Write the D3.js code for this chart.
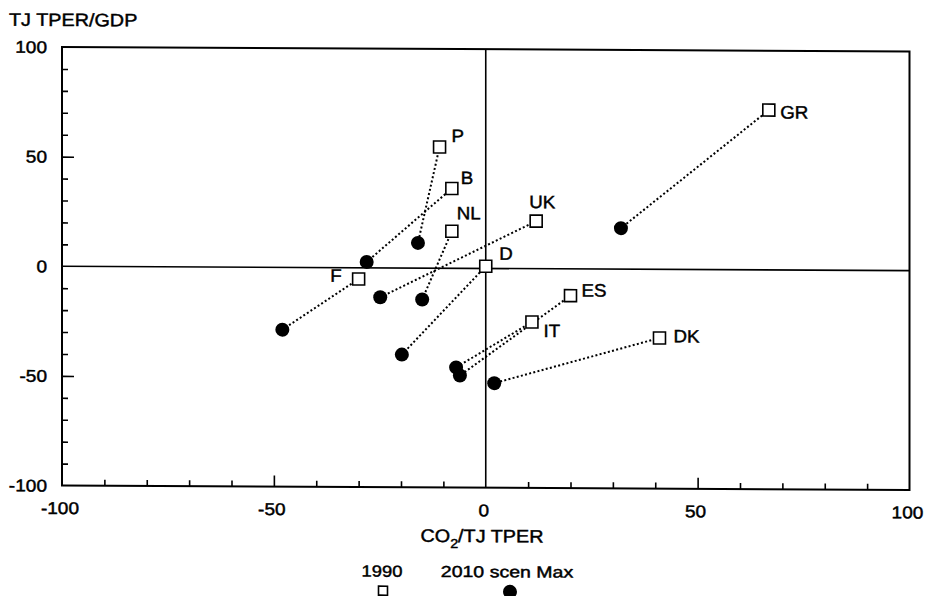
<!DOCTYPE html>
<html>
<head>
<meta charset="utf-8">
<script src="https://cdn.jsdelivr.net/npm/d3@7"></script>
<style>
  html, body { margin: 0; padding: 0; background: #fff; }
  svg { display: block; font-family: "Liberation Sans", Arial, Helvetica, sans-serif; }
  text { fill: #000; stroke: #000; stroke-width: 0.45px; }
</style>
</head>
<body>
<svg id="chart" width="930" height="596"></svg>
<script>
// Countries and the two states compared: 1990 and the 2010 "Max" scenario.
// x = change in CO2 per TJ TPER, y = change in TJ TPER per GDP.
const countries = ["P", "B", "NL", "UK", "D", "F", "ES", "IT", "DK", "GR"];
const x1990 = [-10.9, -8.0, -8.0, 11.9, 0.0, -30.0, 20.0, 10.9, 41.0, 66.8];
const y1990 = [55.3, 36.4, 16.9, 21.7, 1.0, -5.1, -12.2, -24.3, -31.3, 72.9];
const x2010 = [-16.0, -28.1, -15.0, -24.9, -19.8, -48.0, -6.1, -7.0, 2.0, 31.9];
const y2010 = [11.5, 2.7, -14.3, -13.4, -39.5, -28.4, -48.9, -45.2, -52.3, 18.7];

const xTicks = [-100, -50, 0, 50, 100];
const yTicks = [-100, -50, 0, 50, 100];
const minorStep = 10;
const legendLabels = ["1990", "2010 scen Max"];

// Label placement next to each 1990 square: [dx, dy, anchor]
const labelPlace = {
  P: [12, -5, "start"], B: [9, -4.5, "start"], NL: [5, -12, "start"],
  UK: [-7, -13, "start"], D: [13.5, -6.5, "start"], F: [-17, 3, "end"],
  ES: [11, 0.7, "start"], IT: [11.5, 15, "start"], DK: [14, 4.3, "start"],
  GR: [11.5, 8.3, "start"]
};

const svg = d3.select("#chart");
const shear = 0.0052;
const pLeft = 62, pRight = 909.5, pTop = 47, pBottom = 485.5;
const g = svg.append("g")
  .attr("transform", `translate(0,${-pLeft * shear}) skewY(${Math.atan(shear) * 180 / Math.PI})`);

const x = d3.scaleLinear().domain([-100, 100]).range([pLeft, pRight]);
const y = d3.scaleLinear().domain([-100, 100]).range([pBottom, pTop]);

// slightly wide lettering
function widen(sel, f) {
  sel.each(function () {
    const w = this.getComputedTextLength();
    d3.select(this).attr("textLength", w * f).attr("lengthAdjust", "spacingAndGlyphs");
  });
  return sel;
}

// Frame
g.append("rect")
  .attr("x", pLeft).attr("y", pTop)
  .attr("width", pRight - pLeft).attr("height", pBottom - pTop)
  .attr("fill", "none").attr("stroke", "#000").attr("stroke-width", 2);

// Minor / major ticks on the left and bottom edges, pointing inward
const minorVals = d3.range(-90, 100, minorStep).filter(v => v !== 0);
const yAxis = d3.axisRight(y).tickValues(minorVals).tickSize(0).tickFormat("");
const yAxisG = g.append("g").attr("transform", `translate(${pLeft},0)`).call(yAxis);
yAxisG.select(".domain").remove();
yAxisG.selectAll(".tick line")
  .attr("x2", d => Math.abs(d) === 50 ? 12 : 6)
  .attr("stroke", "#000").attr("stroke-width", 1.6);

const xAxis = d3.axisTop(x).tickValues(minorVals).tickSize(0).tickFormat("");
const xAxisG = g.append("g").attr("transform", `translate(0,${pBottom})`).call(xAxis);
xAxisG.select(".domain").remove();
xAxisG.selectAll(".tick line")
  .attr("y2", d => Math.abs(d) === 50 ? -11 : -6)
  .attr("stroke", "#000").attr("stroke-width", 1.6);

// Zero cross lines
g.append("line").attr("x1", pLeft).attr("x2", pRight).attr("y1", y(0)).attr("y2", y(0))
  .attr("stroke", "#000").attr("stroke-width", 1.6);
g.append("line").attr("x1", x(0)).attr("x2", x(0)).attr("y1", pTop).attr("y2", pBottom)
  .attr("stroke", "#000").attr("stroke-width", 1.6);

// Tick labels
widen(g.append("g").selectAll("text").data(yTicks).join("text")
  .attr("x", pLeft - 15).attr("y", d => y(d)).attr("dy", "0.36em")
  .attr("text-anchor", "end").attr("font-size", 17)
  .text(d => d), 1.12);

widen(g.append("g").selectAll("text").data(xTicks).join("text")
  .attr("x", d => x(d) - 2).attr("y", pBottom + 28.5)
  .attr("text-anchor", "middle").attr("font-size", 17)
  .text(d => d), 1.12);

// Axis titles
widen(g.append("text").attr("x", 9).attr("y", 26).attr("font-size", 18)
  .text("TJ TPER/GDP"), 1.1);

const xt = g.append("text").attr("x", 482).attr("y", 540)
  .attr("text-anchor", "middle").attr("font-size", 18);
xt.append("tspan").text("CO");
xt.append("tspan").attr("font-size", 13).attr("dy", 6).text("2");
xt.append("tspan").attr("dy", -6).text("/TJ TPER");
widen(xt, 1.1);

// Connecting dotted lines
const idx = d3.range(countries.length);
g.append("g").selectAll("line").data(idx).join("line")
  .attr("x1", i => x(x1990[i])).attr("y1", i => y(y1990[i]))
  .attr("x2", i => x(x2010[i])).attr("y2", i => y(y2010[i]))
  .attr("stroke", "#000").attr("stroke-width", 2)
  .attr("stroke-dasharray", "2,2.3");

// 2010 scenario dots
g.append("g").selectAll("circle").data(idx).join("circle")
  .attr("cx", i => x(x2010[i])).attr("cy", i => y(y2010[i]))
  .attr("r", 7).attr("fill", "#000");

// 1990 squares
const sq = 12;
g.append("g").selectAll("rect").data(idx).join("rect")
  .attr("x", i => x(x1990[i]) - sq / 2).attr("y", i => y(y1990[i]) - sq / 2)
  .attr("width", sq).attr("height", sq)
  .attr("fill", "#fff").attr("stroke", "#000").attr("stroke-width", 1.6);

// Country labels
widen(g.append("g").selectAll("text").data(idx).join("text")
  .attr("x", i => x(x1990[i]) + labelPlace[countries[i]][0])
  .attr("y", i => y(y1990[i]) + labelPlace[countries[i]][1])
  .attr("text-anchor", i => labelPlace[countries[i]][2])
  .attr("font-size", 18)
  .text(i => countries[i]), 1.04);

// Legend
const lg = g.append("g");
widen(lg.append("text").attr("x", 382).attr("y", 575).attr("text-anchor", "middle")
  .attr("font-size", 16).text(legendLabels[0]), 1.15);
widen(lg.append("text").attr("x", 507).attr("y", 575).attr("text-anchor", "middle")
  .attr("font-size", 16).text(legendLabels[1]), 1.22);
lg.append("rect").attr("x", 378.5).attr("y", 584.5).attr("width", 9).attr("height", 9)
  .attr("fill", "#fff").attr("stroke", "#000").attr("stroke-width", 1.6);
lg.append("circle").attr("cx", 510).attr("cy", 589.5).attr("r", 7).attr("fill", "#000");
</script>
</body>
</html>
